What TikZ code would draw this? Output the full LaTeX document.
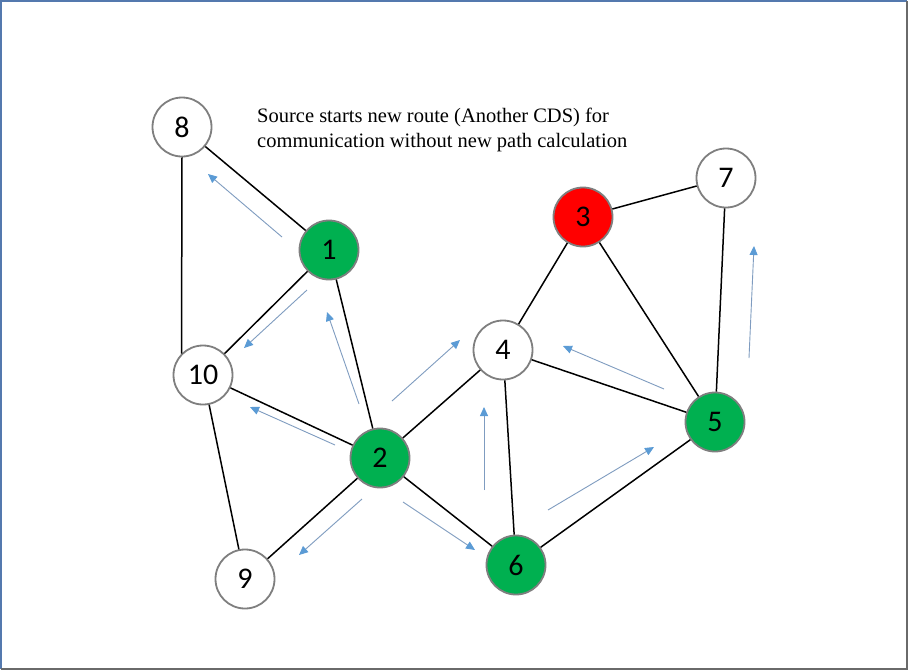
\documentclass[tikz,border=0pt]{standalone}
\usepackage{fontspec}
\setmainfont{Liberation Serif}
\newfontfamily\numfont{Carlito}
\usetikzlibrary{arrows.meta}
\definecolor{nodegreen}{HTML}{00B050}
\definecolor{nodered}{HTML}{FF0000}
\definecolor{ringgray}{HTML}{7F7F7F}
\definecolor{flowline}{HTML}{7F9CC0}
\definecolor{flowtip}{HTML}{5B9BD5}
\definecolor{frameblue}{HTML}{5479AE}
\definecolor{framegray}{HTML}{6A6A6A}
\begin{document}
\begin{tikzpicture}[x=1pt,y=-1pt,
  vertex/.style={circle,draw=ringgray,line width=1.8pt,fill=white,
    minimum size=59pt,inner sep=0pt,font=\numfont\fontsize{30}{30}\selectfont},
  active/.style={vertex,fill=nodegreen},
  failed/.style={vertex,fill=nodered},
  link/.style={black,line width=1.5pt},
  flow/.style={flowline,line width=0.9pt,
    -{Triangle[length=9pt,width=8pt,fill=flowtip,color=flowtip]}}]
% page frame
\useasboundingbox (0,0) rectangle (908,670);
\fill[white] (0,0) rectangle (908,670);
\draw[frameblue,line width=2pt] (1,669) -- (1,1) -- (907,1);
\draw[framegray,line width=2pt] (907,1) -- (907,669) -- (1,669);
% nodes
\node[vertex] (n8) at (182,127) {8};
\node[active] (n1) at (329,250) {1};
\node[vertex] (n10) at (203,375) {10};
\node[active] (n2) at (380,458) {2};
\node[vertex] (n9) at (245,579) {9};
\node[active] (n6) at (516,565) {6};
\node[vertex] (n4) at (503,350) {4};
\node[failed] (n3) at (583,217) {3};
\node[vertex] (n7) at (726,178) {7};
\node[active] (n5) at (715,422) {5};
% links
\draw[link] (n8)--(n1) (n8.south)--(n10.135) (n1)--(n10) (n1)--(n2) (n10)--(n2)
  (n10)--(n9) (n2)--(n9) (n2)--(n4) (n2)--(n6) (n4)--(n6) (n4)--(n3)
  (n4)--(n5) (n3)--(n7) (n3)--(n5) (n7)--(n5) (n6)--(n5);
% route arrows
\coordinate (a1s) at (282,237); \coordinate (a1e) at (208,174);
\coordinate (a2s) at (307,290); \coordinate (a2e) at (244,348);
\coordinate (a3s) at (359,404); \coordinate (a3e) at (327,312);
\coordinate (a4s) at (335,445); \coordinate (a4e) at (250,407);
\coordinate (a5s) at (392,401); \coordinate (a5e) at (460,340);
\coordinate (a6s) at (362,499); \coordinate (a6e) at (299,555);
\coordinate (a7s) at (403,502); \coordinate (a7e) at (475,550);
\coordinate (a8s) at (484,490); \coordinate (a8e) at (484,407);
\coordinate (a9s) at (548,510); \coordinate (a9e) at (654,447);
\coordinate (a10s) at (664,389); \coordinate (a10e) at (563,346);
\coordinate (a11s) at (749,358); \coordinate (a11e) at (754,246);
\foreach \k in {1,...,11} \draw[flow] (a\k s) -- (a\k e);
% caption
\node[anchor=west,align=left,inner sep=0pt,font=\fontsize{20.5}{25}\selectfont]
  (caption) at (257,130) {Source starts new route (Another CDS) for\\communication without new path calculation};
\end{tikzpicture}
\end{document}
